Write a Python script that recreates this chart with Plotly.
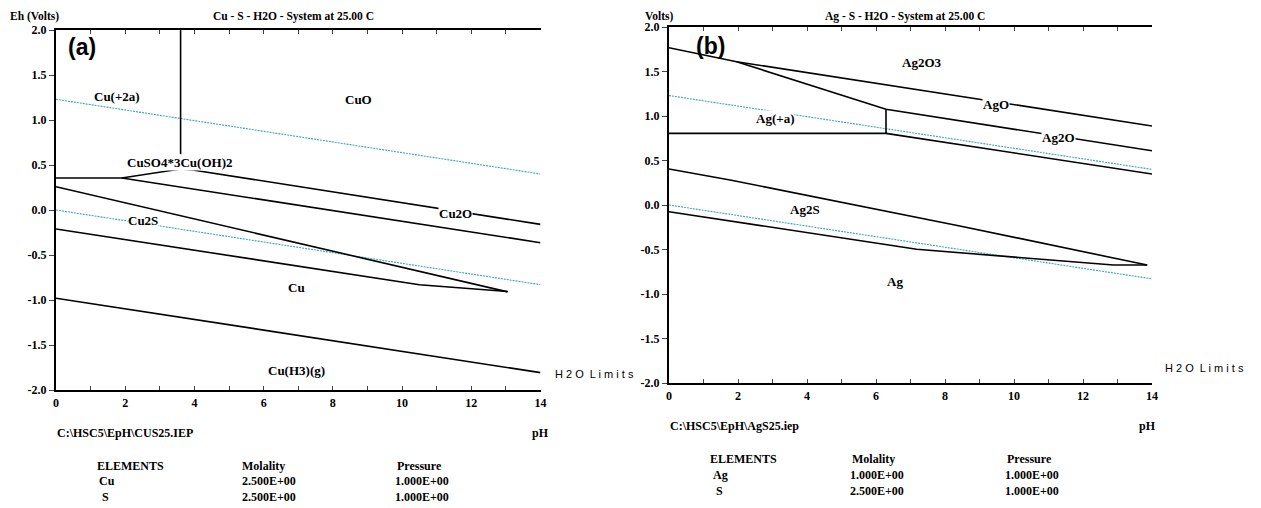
import plotly.graph_objects as go

# page is 1261x508; the browser body has an 8px margin, so the figure is
# drawn 8px in from the top-left and sized to fill the rest of the window
OFF = 8
W, H = 1261 - OFF, 508 - OFF

# ---- axis ticks ----
ph_ticks = list(range(0, 15))
ph_ticktext = [str(v) if v % 2 == 0 else "" for v in ph_ticks]
eh_ticks = [2.0, 1.5, 1.0, 0.5, 0.0, -0.5, -1.0, -1.5, -2.0]
eh_ticktext = ["2.0", "1.5", "1.0", "0.5", "0.0", "-0.5", "-1.0", "-1.5", "-2.0"]

# ---- water stability limits ----
water_ph = [0, 14]
water_upper_eh = [1.23, 0.40]
water_lower_eh = [0.0, -0.83]

# ---- Cu - S - H2O boundaries (pH, Eh) ----
cu_vert_ph = [3.6, 3.6]
cu_vert_eh = [2.0, 0.62]
cu_top_ph = [0, 1.9, 3.6, 3.95, 14]
cu_top_eh = [0.356, 0.356, 0.456, 0.445, -0.16]
cu_mid_ph = [1.9, 14]
cu_mid_eh = [0.356, -0.363]
cu_s_ph = [0, 13.05]
cu_s_eh = [0.259, -0.91]
cu_low_ph = [0, 10.5, 13.05]
cu_low_eh = [-0.211, -0.83, -0.905]
cu_h3_ph = [0, 14]
cu_h3_eh = [-0.98, -1.807]

# ---- Ag - S - H2O boundaries (pH, Eh) ----
ag_top_ph = [0, 1.96, 14]
ag_top_eh = [1.767, 1.61, 0.888]
ag_mid_ph = [1.96, 6.29, 14]
ag_mid_eh = [1.61, 1.075, 0.61]
ag_vert_ph = [6.29, 6.29]
ag_vert_eh = [1.075, 0.805]
ag_h_ph = [0, 6.29, 14]
ag_h_eh = [0.805, 0.805, 0.348]
ag_s_ph = [0, 1.77, 8.43, 13.86]
ag_s_eh = [0.404, 0.281, -0.236, -0.674]
ag_low_ph = [0, 7.18, 12.88, 13.86]
ag_low_eh = [-0.075, -0.498, -0.674, -0.674]

# ---- text tables ----
cu_elements = ["Cu", "S"]
cu_molality = ["2.500E+00", "2.500E+00"]
cu_pressure = ["1.000E+00", "1.000E+00"]
ag_elements = ["Ag", "S"]
ag_molality = ["1.000E+00", "2.500E+00"]
ag_pressure = ["1.000E+00", "1.000E+00"]

SERIF = "Liberation Serif"
SANS = "Liberation Sans"
CYAN = "#3aa7b3"


def fx(px):
    return (px - OFF) / W


def fy(py):
    return 1 - (py - OFF) / H


fig = go.Figure()


def add_line(xs, ys, xa, ya, color="black", width=1.6, dash="solid"):
    fig.add_trace(go.Scatter(x=xs, y=ys, mode="lines", xaxis=xa, yaxis=ya,
                             line=dict(color=color, width=width, dash=dash),
                             hoverinfo="skip", showlegend=False))


for xa, ya in (("x", "y"), ("x2", "y2")):
    add_line(water_ph, water_upper_eh, xa, ya, color=CYAN, width=1.1, dash="2px,1px")
    add_line(water_ph, water_lower_eh, xa, ya, color=CYAN, width=1.1, dash="2px,1px")

for xs, ys in ((cu_vert_ph, cu_vert_eh), (cu_top_ph, cu_top_eh), (cu_mid_ph, cu_mid_eh),
               (cu_s_ph, cu_s_eh), (cu_low_ph, cu_low_eh), (cu_h3_ph, cu_h3_eh)):
    add_line(xs, ys, "x", "y")

for xs, ys in ((ag_top_ph, ag_top_eh), (ag_mid_ph, ag_mid_eh), (ag_vert_ph, ag_vert_eh),
               (ag_h_ph, ag_h_eh), (ag_s_ph, ag_s_eh), (ag_low_ph, ag_low_eh)):
    add_line(xs, ys, "x2", "y2")

tickfont = dict(family=SERIF, size=12, color="black", weight="bold")


def xaxis_cfg(domain, anchor):
    return dict(domain=domain, anchor=anchor, range=[0, 14], tickvals=ph_ticks,
                ticktext=ph_ticktext, ticks="inside", ticklen=4, tickwidth=1,
                tickcolor="#444", showline=True, linecolor="black", linewidth=2.2,
                mirror="ticks", showgrid=False, zeroline=False, tickfont=tickfont,
                fixedrange=True, automargin=False)


def yaxis_cfg(domain, anchor):
    return dict(domain=domain, anchor=anchor, range=[-2, 2], tickvals=eh_ticks,
                ticktext=eh_ticktext, ticks="outside", ticklen=5, tickwidth=1,
                tickcolor="#444", showline=True, linecolor="black", linewidth=2.2,
                showgrid=False, zeroline=False, tickfont=tickfont, fixedrange=True,
                automargin=False)


def yaxis_right(overlay, anchor):
    return dict(overlaying=overlay, anchor=anchor, side="right", range=[-2, 2],
                tickvals=eh_ticks, ticks="inside", ticklen=5, tickwidth=1,
                tickcolor="#444", showticklabels=False, showline=True,
                linecolor="black", linewidth=2.2, showgrid=False, zeroline=False,
                fixedrange=True, automargin=False)


fig.update_layout(
    template="none",
    width=W, height=H, autosize=False,
    margin=dict(l=0, r=0, t=0, b=0, pad=0),
    paper_bgcolor="white", plot_bgcolor="white",
    showlegend=False,
    xaxis=xaxis_cfg([fx(56), fx(540.5)], "y"),
    yaxis=yaxis_cfg([fy(390), fy(30)], "x"),
    yaxis3=yaxis_right("y", "x"),
    xaxis2=xaxis_cfg([fx(669), fx(1152)], "y2"),
    yaxis2=yaxis_cfg([fy(383), fy(27)], "x2"),
    yaxis4=yaxis_right("y2", "x2"),
)

ann = []


def label(text, x, y, xref, yref, bg=None, size=13, family=SERIF, bold=True):
    d = dict(text=text, x=x, y=y, xref=xref, yref=yref, showarrow=False,
             xanchor="center", yanchor="middle",
             font=dict(family=family, size=size, color="black",
                       weight="bold" if bold else "normal"))
    if bg:
        d["bgcolor"] = bg
        d["borderpad"] = 0
    ann.append(d)


def ptext(text, px, py, anchor="left", size=12, family=SERIF, bold=True):
    ann.append(dict(text=text, x=fx(px), y=fy(py), xref="paper", yref="paper",
                    showarrow=False, xanchor=anchor, yanchor="middle",
                    font=dict(family=family, size=size, color="black",
                              weight="bold" if bold else "normal")))


# --- panel (a) labels ---
label("Cu(+2a)", 1.76, 1.256, "x", "y")
label("CuO", 8.73, 1.233, "x", "y")
label("CuSO4*3Cu(OH)2", 3.58, 0.533, "x", "y", bg="white")
label("Cu2O", 11.53, -0.035, "x", "y", bg="white")
label("Cu2S", 2.52, -0.122, "x", "y", bg="white")
label("Cu", 6.96, -0.856, "x", "y")
label("Cu(H3)(g)", 6.94, -1.78, "x", "y")
ptext("(a)", 66, 47, size=23, family=SANS)

# --- panel (b) labels ---
label("Ag2O3", 7.32, 1.60, "x2", "y2")
label("AgO", 9.48, 1.13, "x2", "y2", bg="white")
label("Ag2O", 11.28, 0.76, "x2", "y2", bg="white")
label("Ag(+a)", 3.07, 0.975, "x2", "y2", bg="white")
label("Ag2S", 3.94, -0.05, "x2", "y2")
label("Ag", 6.55, -0.86, "x2", "y2")
ptext("(b)", 694, 46, size=23, family=SANS)

# --- titles ---
ptext("Eh (Volts)", 8, 16, size=11.5)
ptext("Cu - S - H2O - System at 25.00 C", 293, 16, anchor="center", size=11.5)
ptext("Volts)", 643, 16, size=11.5)
ptext("Ag - S - H2O - System at 25.00 C", 905, 16, anchor="center", size=11.5)

# --- H2O limits ---
ptext("H 2 O  L i m i t s", 553, 374, size=11, family=SANS, bold=False)
ptext("H 2 O  L i m i t s", 1163, 368, size=11, family=SANS, bold=False)

# --- file names and pH ---
ptext("C:\\HSC5\\EpH\\CUS25.IEP", 55, 433, size=12)
ptext("pH", 540, 433, anchor="center", size=12)
ptext("C:\\HSC5\\EpH\\AgS25.iep", 668, 426, size=12)
ptext("pH", 1147, 426, anchor="center", size=12)

# --- element tables ---
ptext("ELEMENTS", 95, 466, size=12)
ptext("Molality", 240, 466, size=12)
ptext("Pressure", 395, 466, size=12)
for i, (e, m, p) in enumerate(zip(cu_elements, cu_molality, cu_pressure)):
    yy = 481 + 16 * i
    ptext(e, 97 + 3 * i, yy, size=12)
    ptext(m, 240, yy, size=12)
    ptext(p, 393, yy, size=12)

ptext("ELEMENTS", 708, 459, size=12)
ptext("Molality", 850, 459, size=12)
ptext("Pressure", 1005, 459, size=12)
for i, (e, m, p) in enumerate(zip(ag_elements, ag_molality, ag_pressure)):
    yy = 475 + 16 * i
    ptext(e, 711 + 3 * i, yy, size=12)
    ptext(m, 848, yy, size=12)
    ptext(p, 1003, yy, size=12)

fig.update_layout(annotations=ann)
fig.write_html("out.html")
